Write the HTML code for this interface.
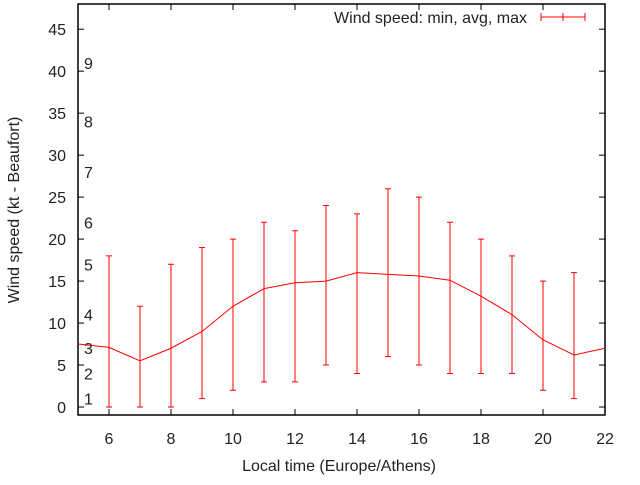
<!DOCTYPE html>
<html><head><meta charset="utf-8"><style>
body{margin:0;background:#fff}
svg text{font-family:"Liberation Sans",sans-serif;font-size:16px;fill:#222}
</style></head><body>
<svg id="chart" width="640" height="480" xmlns="http://www.w3.org/2000/svg"></svg>
<script>
const hours=[5,6,7,8,9,10,11,12,13,14,15,16,17,18,19,20,21,22];
const avgSpeed=[7.5,7.1,5.5,7,9,12,14.1,14.8,15,16,15.8,15.6,15.1,13.2,11,8,6.2,7];
const minSpeed=[null,0,0,0,1,2,3,3,5,4,6,5,4,4,4,2,1,null];
const maxSpeed=[null,18,12,17,19,20,22,21,24,23,26,25,22,20,18,15,16,null];
const xTicks=[6,8,10,12,14,16,18,20,22];
const yTicks=[0,5,10,15,20,25,30,35,40,45];
const beaufortLevels=[1,2,3,4,5,6,7,8,9];
const beaufortKnots=[1,4,7,11,17,22,28,34,41];
const L=78,R=605,T=4,B=415,x0=5,x1=22,y0=-0.95,y1=48;
const X=v=>L+(v-x0)/(x1-x0)*(R-L);
const Y=v=>B-(v-y0)/(y1-y0)*(B-T);
const svg=document.getElementById('chart');
const NS='http://www.w3.org/2000/svg';
function mk(t,a,txt){const e=document.createElementNS(NS,t);for(const k in a)e.setAttribute(k,a[k]);if(txt!=null)e.textContent=txt;svg.appendChild(e);return e;}
let e;
e=mk('rect',{x:L,y:T,width:R-L,height:B-T,fill:'none',stroke:'#000','stroke-width':1.5});


yTicks.forEach(v=>{const y=Y(v);
 e=mk('line',{x1:L,x2:L+6,y1:y,y2:y,stroke:'#000'});
 
 
 e=mk('line',{x1:R-6,x2:R,y1:y,y2:y,stroke:'#000'});
 
 
 e=mk('text',{x:L-12,y:y+6,'text-anchor':'end'},v);
 
 
});
xTicks.forEach(v=>{const x=X(v);
 e=mk('line',{x1:x,x2:x,y1:B,y2:B-6,stroke:'#000'});
 
 
 e=mk('line',{x1:x,x2:x,y1:T,y2:T+6,stroke:'#000'});
 
 
 e=mk('text',{x:x,y:B+29,'text-anchor':'middle'},v);
 
 
});
beaufortLevels.forEach((b,i)=>{
 e=mk('text',{x:84,y:Y(beaufortKnots[i])+6},b);
 
 
});
e=mk('text',{x:339,y:471,'text-anchor':'middle'},'Local time (Europe/Athens)');


e=mk('text',{x:19,y:210,'text-anchor':'middle',transform:'rotate(-90 19 210)'},'Wind speed (kt - Beaufort)');


hours.forEach((h,i)=>{if(minSpeed[i]==null)return;const x=X(h);
 e=mk('path',{d:`M${x},${Y(minSpeed[i])}V${Y(maxSpeed[i])}M${x-3},${Y(minSpeed[i])}h6M${x-3},${Y(maxSpeed[i])}h6`,stroke:'#f00',fill:'none'});
 
 
});
e=mk('polyline',{points:hours.map((h,i)=>X(h)+','+Y(avgSpeed[i])).join(' '),fill:'none',stroke:'#f00'});


e=mk('text',{x:527,y:23,'text-anchor':'end'},'Wind speed: min, avg, max');


e=mk('path',{d:'M541,17H585M541,13V21M585,13V21M563,13V21',stroke:'#f00',fill:'none'});


</script>
</body></html>
